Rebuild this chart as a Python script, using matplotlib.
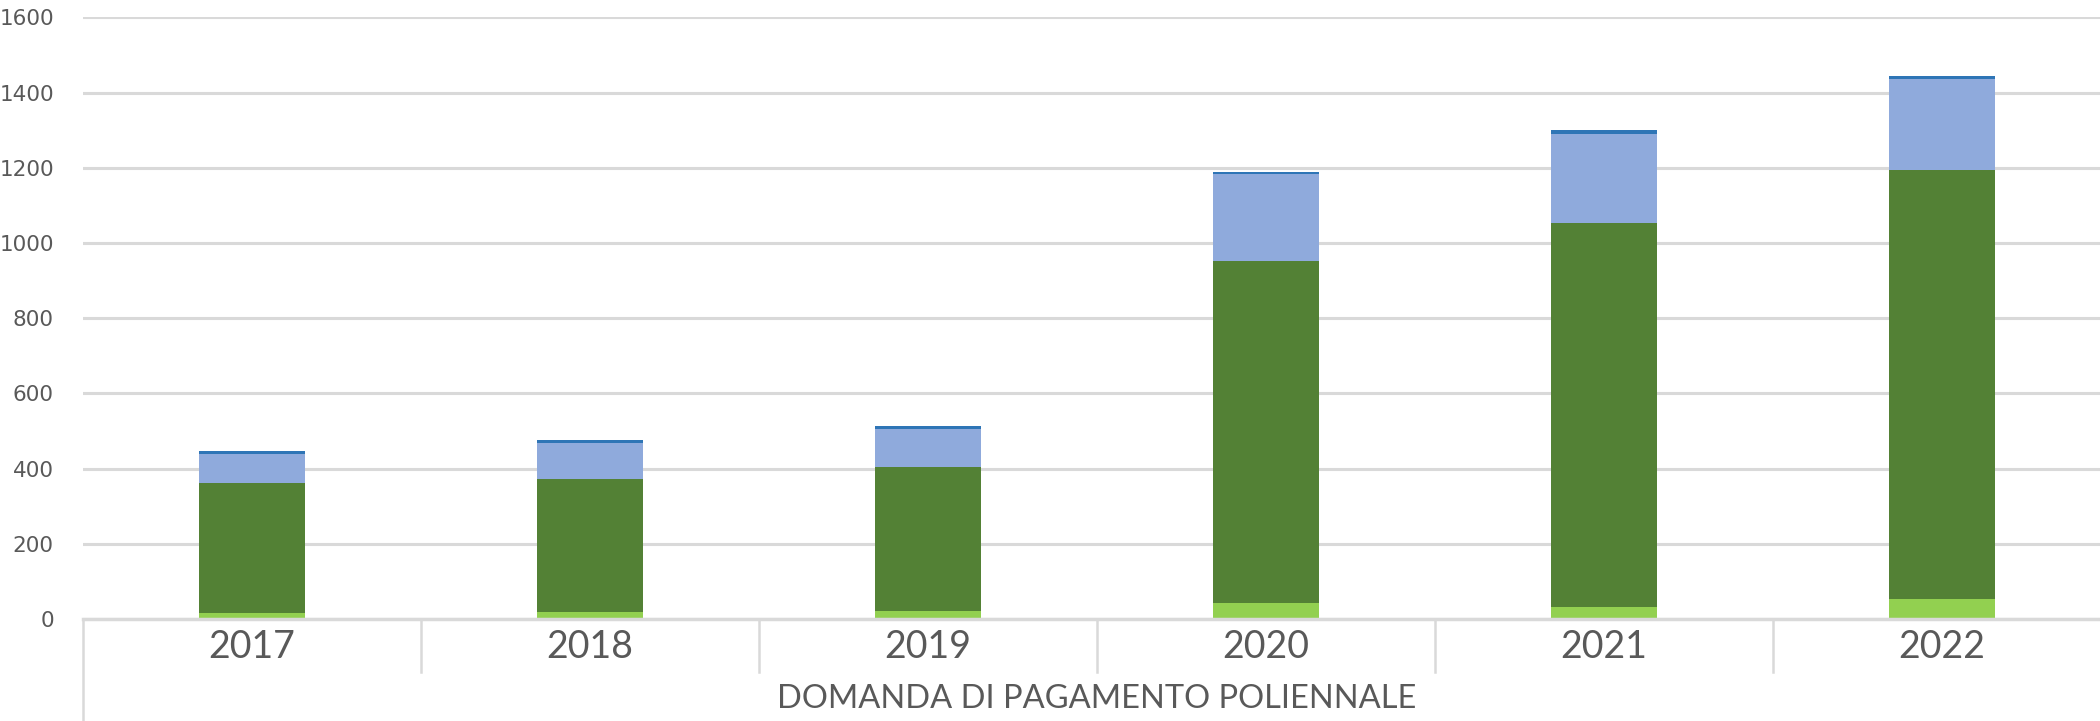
import matplotlib
matplotlib.use("Agg")
import matplotlib.pyplot as plt
import matplotlib.transforms as mtransforms
import numpy as np

years = ["2017", "2018", "2019", "2020", "2021", "2022"]
group_label = "DOMANDA DI PAGAMENTO POLIENNALE"
s_light_green = [17, 19, 21, 42, 33, 52]
s_dark_green = [345, 353, 384, 911, 1021, 1141]
s_light_blue = [76, 97, 100, 230, 237, 242]
s_dark_blue = [8, 6, 8, 7, 9, 9]
y_ticks = [0, 200, 400, 600, 800, 1000, 1200, 1400, 1600]

colors = ["#92D050", "#538135", "#8FAADC", "#2E75B6"]
series = [s_light_green, s_dark_green, s_light_blue, s_dark_blue]

W, H = 2100, 721
fig = plt.figure(figsize=(W / 100, H / 100), dpi=100)
left, right, bottom, top = 83 / W, 2111 / W, 1 - 619 / H, 1 - 17.4 / H
ax = fig.add_axes([left, bottom, right - left, top - bottom])

x = np.arange(len(years))
base = np.zeros(len(years))
for vals, c in zip(series, colors):
    ax.bar(x, vals, bottom=base, width=0.314, color=c, zorder=3, linewidth=0)
    base += np.array(vals)

ax.set_xlim(-0.5, len(years) - 0.5)
ax.set_ylim(0, 1600)
ax.set_yticks(y_ticks)
ax.set_yticklabels([str(t) for t in y_ticks], fontsize=15.5, color="#595959",
                   family=["DejaVu Sans"])
ax.tick_params(axis="y", length=0, pad=21)
ax.tick_params(axis="x", length=0, labelbottom=False)
ax.grid(axis="y", color="#D9D9D9", linewidth=2.2, zorder=0)
for s in ["top", "right", "left"]:
    ax.spines[s].set_visible(False)
ax.spines["bottom"].set_color("#D9D9D9")
ax.spines["bottom"].set_linewidth(2.5)
ax.spines["bottom"].set_zorder(4)

trans = mtransforms.blended_transform_factory(ax.transData, fig.transFigure)
# category separators
for b in np.arange(0.5, len(years) - 0.5, 1.0):
    ax.plot([b, b], [1 - 619 / H, 1 - 672 / H], transform=trans, color="#D9D9D9",
            linewidth=1.8, clip_on=False)
# left boundary
ax.plot([-0.5, -0.5], [1 - 619 / H, 0], transform=trans, color="#D9D9D9",
        linewidth=1.8, clip_on=False)

for i, yr in enumerate(years):
    ax.text(i, 1 - 647 / H, yr, transform=trans, ha="center", va="center",
            fontsize=27, color="#595959", family=["Lato", "DejaVu Sans"])
ax.text((len(years) - 1) / 2, 1 - 699 / H, group_label, transform=trans,
        ha="center", va="center", fontsize=23.5, color="#595959",
        family=["Lato", "DejaVu Sans"])

fig.savefig("out.png", dpi=100, facecolor="white")
